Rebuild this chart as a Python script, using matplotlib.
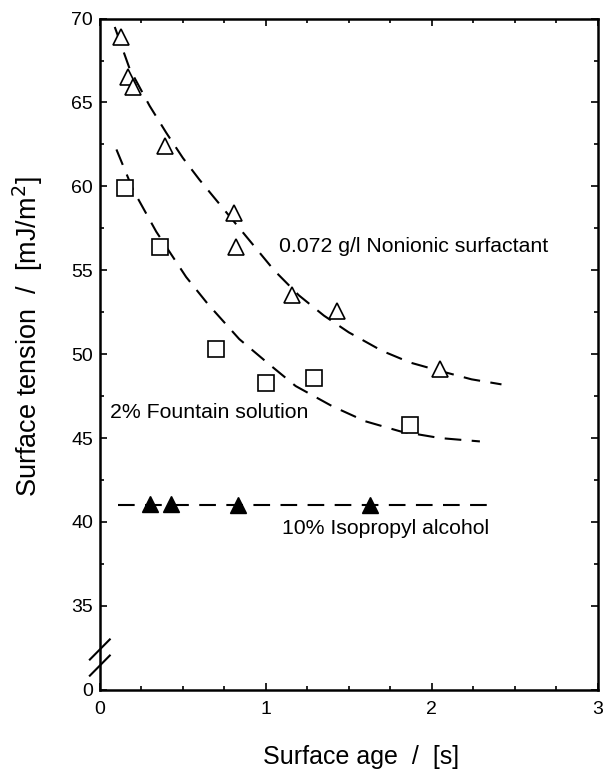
import matplotlib
matplotlib.use("Agg")
import matplotlib.pyplot as plt
from matplotlib.ticker import MultipleLocator, FixedLocator

plt.rcParams['font.family'] = ['Liberation Sans', 'DejaVu Sans']

# measured points
nonionic_x = [0.13, 0.17, 0.20, 0.39, 0.81, 0.82, 1.16, 1.43, 2.05]
nonionic_y = [68.9, 66.5, 65.9, 62.4, 58.4, 56.4, 53.5, 52.6, 49.1]

fountain_x = [0.15, 0.36, 0.70, 1.00, 1.29, 1.87]
fountain_y = [59.9, 56.4, 50.3, 48.3, 48.6, 45.8]

ipa_x = [0.30, 0.43, 0.83, 1.63]
ipa_y = [41.1, 41.1, 41.0, 41.0]

# dashed fit curves
nonionic_fit_x = [0.09, 0.18, 0.30, 0.40, 0.50, 0.60, 0.75, 0.90, 1.05, 1.20,
                  1.35, 1.50, 1.70, 1.87, 2.05, 2.24, 2.42]
nonionic_fit_y = [69.5, 67.0, 64.8, 63.2, 61.7, 60.4, 58.6, 56.8, 55.0, 53.5,
                  52.3, 51.3, 50.2, 49.5, 49.0, 48.5, 48.2]

fountain_fit_x = [0.10, 0.20, 0.34, 0.52, 0.65, 0.84, 1.02, 1.18, 1.40, 1.60,
                  1.81, 2.05, 2.29]
fountain_fit_y = [62.2, 59.8, 57.3, 54.6, 53.0, 50.9, 49.4, 48.1, 46.9, 46.0,
                  45.4, 45.0, 44.8]

ipa_fit_x = [0.11, 2.37]
ipa_fit_y = [41.0, 41.0]

# y axis is broken: position 30 carries the label "0"
ytick_pos = [30, 35, 40, 45, 50, 55, 60, 65, 70]
ytick_lab = ['0', '35', '40', '45', '50', '55', '60', '65', '70']

fig = plt.figure(figsize=(6.05, 7.75), dpi=100)
ax = fig.add_axes([0.165, 0.110, 0.823, 0.866])

dash = (0, (8, 5))
ax.plot(nonionic_fit_x, nonionic_fit_y, color='black', lw=1.5, linestyle=dash)
ax.plot(fountain_fit_x, fountain_fit_y, color='black', lw=1.5, linestyle=dash)
ax.plot(ipa_fit_x, ipa_fit_y, color='black', lw=1.5, linestyle=dash)

ax.plot(nonionic_x, nonionic_y, '^', ms=11, mfc='white', mec='black', mew=1.2)
ax.plot(fountain_x, fountain_y, 's', ms=11, mfc='white', mec='black', mew=1.2)
ax.plot(ipa_x, ipa_y, '^', ms=11.5, mfc='black', mec='black', mew=1.0)

ax.text(1.08, 56.4, '0.072 g/l Nonionic surfactant', fontsize=15.3, va='center')
ax.text(0.06, 46.55, '2% Fountain solution', fontsize=15.3, va='center')
ax.text(1.10, 39.6, '10% Isopropyl alcohol', fontsize=15.3, va='center')

ax.set_xlim(0, 3)
ax.set_ylim(30, 70)
ax.xaxis.set_major_locator(MultipleLocator(1))
ax.xaxis.set_minor_locator(MultipleLocator(0.25))
ax.yaxis.set_major_locator(FixedLocator(ytick_pos))
ax.yaxis.set_minor_locator(FixedLocator([37.5, 42.5, 47.5, 52.5, 57.5, 62.5, 67.5]))
ax.set_yticklabels(ytick_lab)

ax.tick_params(which='both', direction='in', top=True, right=True,
               labelsize=14, width=1.2)
ax.tick_params(which='major', length=5)
ax.tick_params(which='minor', length=3)
ax.tick_params(axis='x', pad=8)
ax.tick_params(axis='y', pad=5)
for s in ax.spines.values():
    s.set_linewidth(1.8)

# break marks on the y axis
for yc in (0.060, 0.036):
    ax.plot([-0.02, 0.02], [yc - 0.015, yc + 0.015], color='black', lw=1.5,
            transform=ax.transAxes, clip_on=False)

ax.set_xlabel('Surface age  /  [s]', fontsize=18)
ax.set_ylabel('Surface tension  /  [mJ/m$^2$]', fontsize=19.5)
ax.xaxis.set_label_coords(0.524, -0.082)
ax.yaxis.set_label_coords(-0.11, 0.526)

fig.savefig('out.png', dpi=100)
